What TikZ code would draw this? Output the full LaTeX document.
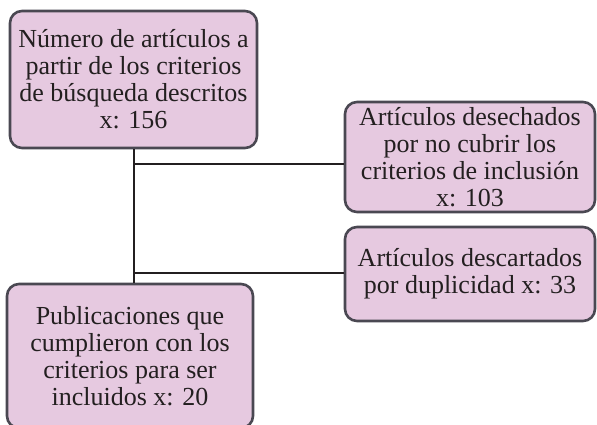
\documentclass[tikz,border=0pt]{standalone}
\usepackage{fontspec}
\setmainfont{Liberation Serif}
\usetikzlibrary{positioning}

\definecolor{rosado}{HTML}{E6C9E0}
\definecolor{borde}{HTML}{4A4852}
\definecolor{linea}{HTML}{231F20}

\begin{document}
\begin{tikzpicture}[x=1pt,y=-1pt,
    caja/.style={draw=borde,fill=rosado,line width=2.6pt,rounded corners=12pt,
        align=center,inner sep=2pt,text=linea,
        font=\fontsize{26}{27}\selectfont},
    conector/.style={draw=linea,line width=2.4pt}]
%\draw[help lines] (0,0) grid (597,424);
\useasboundingbox (0,0) rectangle (597,424);
\node[caja,minimum width=247pt,minimum height=137pt] (total) at (133.5,79.5)
    {Número de artículos a\\partir de los criterios\\de búsqueda descritos\\x: 156};
\node[caja,minimum width=250pt,minimum height=110pt] (desechados) at (470,157)
    {Artículos desechados\\por no cubrir los\\criterios de inclusión\\x: 103};
\node[caja,minimum width=250pt,minimum height=94pt] (descartados) at (470,274)
    {Artículos descartados\\por duplicidad x: 33};
\node[caja,minimum width=246pt,minimum height=144pt] (incluidos) at (130,356)
    {Publicaciones que\\cumplieron con los\\criterios para ser\\incluidos x: 20};
\coordinate (r1) at (134,164);
\coordinate (r2) at (134,273);
\draw[conector] (total.south -| r1) -- (incluidos.north -| r1);
\draw[conector] (r1) -- (r1 -| desechados.west);
\draw[conector] (r2) -- (r2 -| descartados.west);
\end{tikzpicture}
\end{document}
